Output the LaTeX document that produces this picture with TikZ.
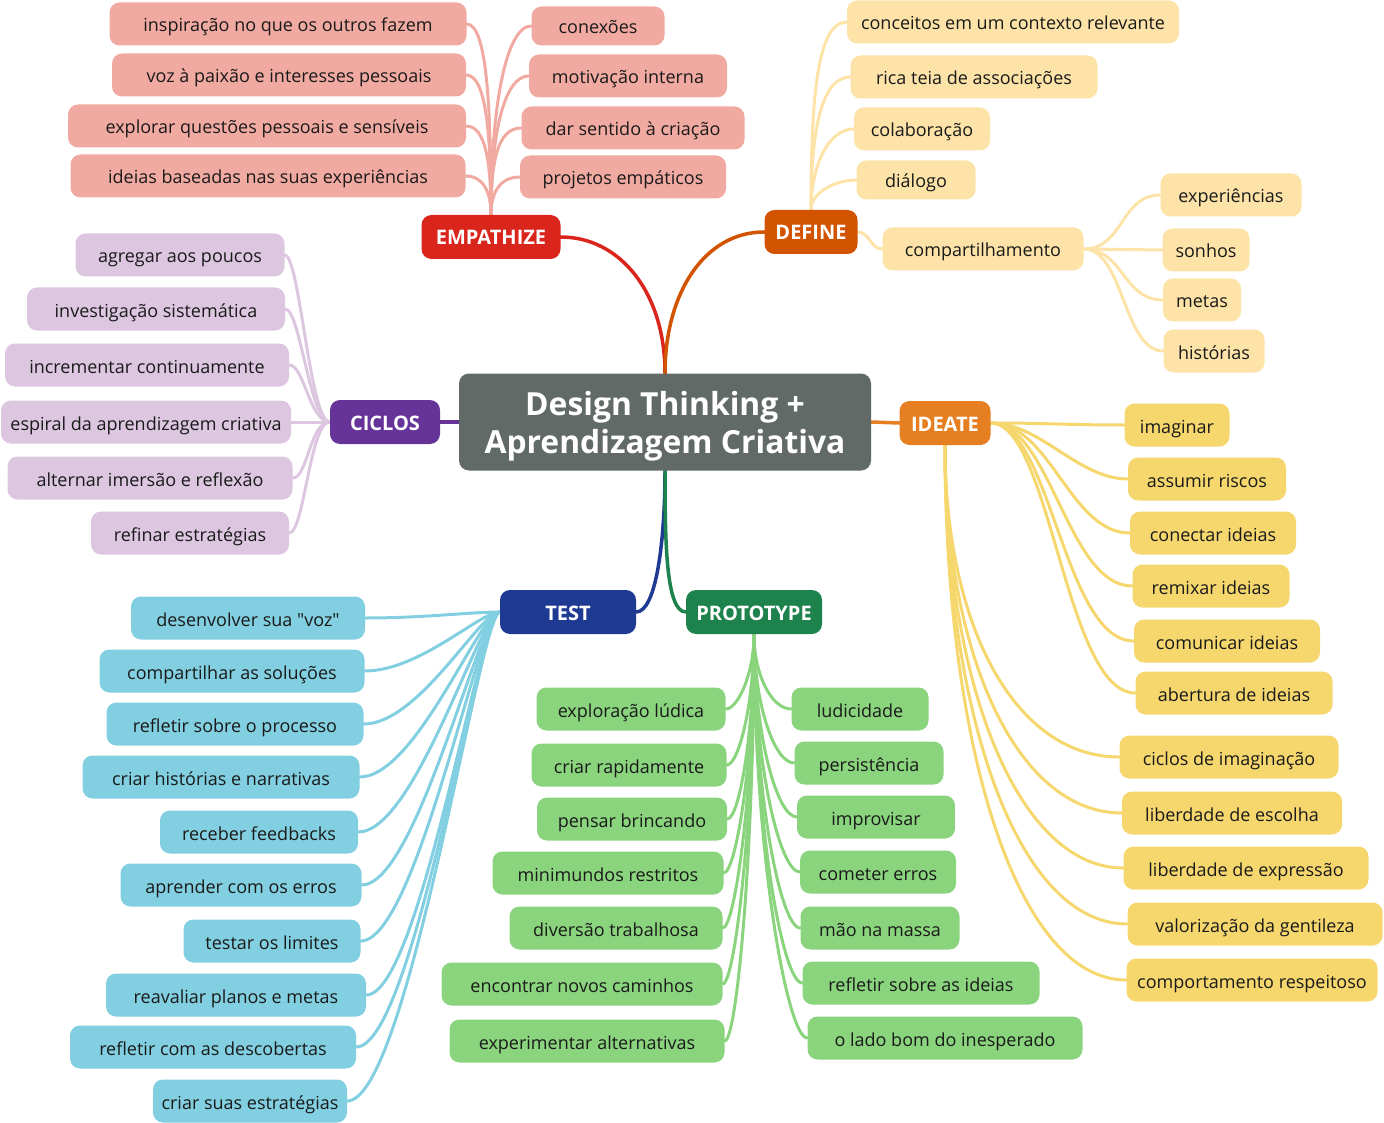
\documentclass[tikz,border=0pt]{standalone}
\usepackage{fontspec}
\setmainfont{Open Sans}
\definecolor{empC}{HTML}{DA251D}
\definecolor{empL}{HTML}{F1AAA1}
\definecolor{defC}{HTML}{D35400}
\definecolor{defL}{HTML}{FDE3A7}
\definecolor{ideC}{HTML}{E67E22}
\definecolor{ideL}{HTML}{F5D76E}
\definecolor{cicC}{HTML}{663399}
\definecolor{cicL}{HTML}{DCC6E0}
\definecolor{tesC}{HTML}{1F3A93}
\definecolor{tesL}{HTML}{81CFE0}
\definecolor{proC}{HTML}{1E824C}
\definecolor{proL}{HTML}{8AD47E}
\definecolor{cenC}{HTML}{626A67}
\definecolor{txt}{HTML}{1A1A1A}
\newcommand{\leaffont}{\fontsize{18}{21}\selectfont}
\newcommand{\catfont}{\fontsize{20}{24}\selectfont\bfseries}
\newcommand{\titlefont}{\fontsize{31.8}{38}\selectfont\bfseries}
\newcommand{\sq}{\XeTeXglyph\XeTeXcharglyph"22\relax}
\pgfdeclarelayer{bg}
\pgfsetlayers{bg,main}
\begin{document}
\begin{tikzpicture}[x=1pt,y=-1pt,
  box/.style={rounded corners=10pt, inner sep=0pt, align=center, minimum height=43pt},
  leafbox/.style={box, text=txt, font=\leaffont, text height=16pt, text depth=0pt},
  catbox/.style={box, text=white, font=\catfont, minimum height=44pt, text height=16pt, text depth=0pt},
  empleaf/.style={leafbox, fill=empL}, defleaf/.style={leafbox, fill=defL},
  ideleaf/.style={leafbox, fill=ideL}, cicleaf/.style={leafbox, fill=cicL},
  tesleaf/.style={leafbox, fill=tesL}, proleaf/.style={leafbox, fill=proL},
  leafline/.style={line width=3pt, line cap=round},
  catline/.style={line width=3.5pt, line cap=round},
]
\useasboundingbox (0,0) rectangle (1384,1123);

\node[box, fill=cenC, text=white, font=\titlefont, minimum width=412pt, minimum height=97pt, text depth=0pt] (C) at (665,422) {Design Thinking +\\Aprendizagem Criativa};

\node[catbox, fill=empC, minimum width=139pt] (E) at (491,237) {EMPATHIZE};
\node[catbox, fill=defC, minimum width=93pt] (D) at (811,232) {DEFINE};
\node[catbox, fill=ideC, minimum width=91pt] (I) at (945,423) {IDEATE};
\node[catbox, fill=cicC, minimum width=110pt] (Ci) at (385,422) {CICLOS};
\node[catbox, fill=tesC, minimum width=136pt] (T) at (568,612) {TEST};
\node[catbox, fill=proC, minimum width=136pt] (P) at (754,612) {PROTOTYPE};

% EMPATHIZE leaves
\node[empleaf, minimum width=357pt] (e1) at (288,24) {inspiração no que os outros fazem};
\node[empleaf, minimum width=354pt] (e2) at (289,75) {voz à paixão e interesses pessoais};
\node[empleaf, minimum width=398pt] (e3) at (267,126) {explorar questões pessoais e sensíveis};
\node[empleaf, minimum width=395pt] (e4) at (268,176) {ideias baseadas nas suas experiências};
\node[empleaf, minimum width=133pt, minimum height=39pt] (e5) at (598,26) {conexões};
\node[empleaf, minimum width=198pt] (e6) at (628,76) {motivação interna};
\node[empleaf, minimum width=223pt] (e7) at (633,128) {dar sentido à criação};
\node[empleaf, minimum width=206pt] (e8) at (623,177) {projetos empáticos};

% DEFINE leaves
\node[defleaf, minimum width=332pt] (d1) at (1013,22) {conceitos em um contexto relevante};
\node[defleaf, minimum width=247pt] (d2) at (974,77) {rica teia de associações};
\node[defleaf, minimum width=136pt] (d3) at (922,129) {colaboração};
\node[defleaf, minimum width=119pt, minimum height=39pt] (d4) at (916,180) {diálogo};
\node[defleaf, minimum width=201pt] (d5) at (983,249) {compartilhamento};
\node[defleaf, minimum width=141pt] (d6) at (1231,195) {experiências};
\node[defleaf, minimum width=87pt] (d7) at (1206,250) {sonhos};
\node[defleaf, minimum width=78pt] (d8) at (1202,300) {metas};
\node[defleaf, minimum width=101pt] (d9) at (1214,351) {histórias};

% IDEATE leaves
\node[ideleaf, minimum width=105pt] (i1) at (1177,425) {imaginar};
\node[ideleaf, minimum width=158pt] (i2) at (1207,479) {assumir riscos};
\node[ideleaf, minimum width=166pt] (i3) at (1213,533) {conectar ideias};
\node[ideleaf, minimum width=157pt] (i4) at (1211,586) {remixar ideias};
\node[ideleaf, minimum width=186pt] (i5) at (1227,641) {comunicar ideias};
\node[ideleaf, minimum width=197pt] (i6) at (1234,693) {abertura de ideias};
\node[ideleaf, minimum width=219pt] (i7) at (1229,757) {ciclos de imaginação};
\node[ideleaf, minimum width=220pt] (i8) at (1232,813) {liberdade de escolha};
\node[ideleaf, minimum width=245pt] (i9) at (1246,868) {liberdade de expressão};
\node[ideleaf, minimum width=255pt] (i10) at (1255,924) {valorização da gentileza};
\node[ideleaf, minimum width=251pt] (i11) at (1252,980) {comportamento respeitoso};

% CICLOS leaves
\node[cicleaf, minimum width=209pt] (c1) at (180,255) {agregar aos poucos};
\node[cicleaf, minimum width=258pt] (c2) at (156,309) {investigação sistemática};
\node[cicleaf, minimum width=284pt] (c3) at (147,365) {incrementar continuamente};
\node[cicleaf, minimum width=290pt] (c4) at (146,422) {espiral da aprendizagem criativa};
\node[cicleaf, minimum width=285pt] (c5) at (150,478) {alternar imersão e reflexão};
\node[cicleaf, minimum width=198pt] (c6) at (190,533) {refinar estratégias};

% TEST leaves
\node[tesleaf, minimum width=234pt] (t1) at (248,618) {desenvolver sua \sq voz\sq};
\node[tesleaf, minimum width=265pt] (t2) at (232,671) {compartilhar as soluções};
\node[tesleaf, minimum width=257pt] (t3) at (235,724) {refletir sobre o processo};
\node[tesleaf, minimum width=277pt] (t4) at (221,777) {criar histórias e narrativas};
\node[tesleaf, minimum width=198pt] (t5) at (259,832) {receber feedbacks};
\node[tesleaf, minimum width=241pt] (t6) at (241,885) {aprender com os erros};
\node[tesleaf, minimum width=177pt] (t7) at (272,941) {testar os limites};
\node[tesleaf, minimum width=260pt] (t8) at (236,995) {reavaliar planos e metas};
\node[tesleaf, minimum width=286pt] (t9) at (213,1047) {refletir com as descobertas};
\node[tesleaf, minimum width=194pt] (t10) at (250,1101) {criar suas estratégias};

% PROTOTYPE leaves
\node[proleaf, minimum width=189pt] (p1) at (631,709) {exploração lúdica};
\node[proleaf, minimum width=195pt] (p2) at (629,765) {criar rapidamente};
\node[proleaf, minimum width=190pt] (p3) at (632,819) {pensar brincando};
\node[proleaf, minimum width=231pt] (p4) at (608,873) {minimundos restritos};
\node[proleaf, minimum width=213pt] (p5) at (616,928) {diversão trabalhosa};
\node[proleaf, minimum width=281pt] (p6) at (582,984) {encontrar novos caminhos};
\node[proleaf, minimum width=275pt] (p7) at (587,1041) {experimentar alternativas};
\node[proleaf, minimum width=137pt] (q1) at (860,709) {ludicidade};
\node[proleaf, minimum width=149pt] (q2) at (869,763) {persistência};
\node[proleaf, minimum width=158pt] (q3) at (876,817) {improvisar};
\node[proleaf, minimum width=156pt] (q4) at (878,872) {cometer erros};
\node[proleaf, minimum width=159pt] (q5) at (880,928) {mão na massa};
\node[proleaf, minimum width=237pt] (q6) at (921,983) {refletir sobre as ideias};
\node[proleaf, minimum width=275pt] (q7) at (945,1038) {o lado bom do inesperado};

\begin{pgfonlayer}{bg}
% main branches
\draw[catline, empC] (C.north) .. controls +(0,-80) and +(60,0) .. (E.east);
\draw[catline, defC] (C.north) .. controls +(0,-80) and +(-60,0) .. (D.west);
\draw[catline, ideC] (C.east) -- (I.west);
\draw[catline, cicC] (C.west) -- (Ci.east);
\draw[catline, tesC] (C.south) .. controls +(0,70) and +(20,0) .. (T.east);
\draw[catline, proC] (C.south) .. controls +(0,70) and +(-20,0) .. (P.west);

% EMPATHIZE
\begin{scope}[leafline, empL]
\draw (E.north) .. controls +(0,-110) and +(20,0) .. (e1.east);
\draw (E.north) .. controls +(0,-80) and +(20,0) .. (e2.east);
\draw (E.north) .. controls +(0,-50) and +(20,0) .. (e3.east);
\draw (E.north) .. controls +(0,-22) and +(18,0) .. (e4.east);
\draw (E.north) .. controls +(0,-110) and +(-25,0) .. (e5.west);
\draw (E.north) .. controls +(0,-80) and +(-25,0) .. (e6.west);
\draw (E.north) .. controls +(0,-50) and +(-25,0) .. (e7.west);
\draw (E.north) .. controls +(0,-22) and +(-20,0) .. (e8.west);
\end{scope}

% DEFINE
\begin{scope}[leafline, defL]
\draw (D.north) .. controls +(0,-110) and +(-30,0) .. (d1.west);
\draw (D.north) .. controls +(0,-75) and +(-30,0) .. (d2.west);
\draw (D.north) .. controls +(0,-45) and +(-25,0) .. (d3.west);
\draw (D.north) .. controls +(0,-18) and +(-20,0) .. (d4.west);
\draw (D.east) .. controls +(12,0) and +(-12,0) .. (d5.west);
\draw (d5.east) .. controls +(40,0) and +(-40,0) .. (d6.west);
\draw (d5.east) .. controls +(40,0) and +(-40,0) .. (d7.west);
\draw (d5.east) .. controls +(40,0) and +(-40,0) .. (d8.west);
\draw (d5.east) .. controls +(40,0) and +(-40,0) .. (d9.west);
\end{scope}

% IDEATE
\begin{scope}[leafline, ideL]
\draw (I.east) .. controls +(60,0) and +(-60,0) .. (i1.west);
\draw (I.east) .. controls +(50,0) and +(-50,0) .. (i2.west);
\draw (I.east) .. controls +(60,0) and +(-60,0) .. (i3.west);
\draw (I.east) .. controls +(60,0) and +(-65,0) .. (i4.west);
\draw (I.east) .. controls +(60,0) and +(-70,0) .. (i5.west);
\draw (I.east) .. controls +(60,0) and +(-70,0) .. (i6.west);
\draw (I.south) .. controls +(0,180) and +(-105,0) .. (i7.west);
\draw (I.south) .. controls +(0,210) and +(-105,0) .. (i8.west);
\draw (I.south) .. controls +(0,240) and +(-105,0) .. (i9.west);
\draw (I.south) .. controls +(0,270) and +(-110,0) .. (i10.west);
\draw (I.south) .. controls +(0,300) and +(-110,0) .. (i11.west);
\end{scope}

% CICLOS
\begin{scope}[leafline, cicL]
\draw (Ci.west) .. controls +(-20,0) and +(15,0) .. (c1.east);
\draw (Ci.west) .. controls +(-20,0) and +(15,0) .. (c2.east);
\draw (Ci.west) .. controls +(-20,0) and +(15,0) .. (c3.east);
\draw (Ci.west) -- (c4.east);
\draw (Ci.west) .. controls +(-20,0) and +(15,0) .. (c5.east);
\draw (Ci.west) .. controls +(-20,0) and +(15,0) .. (c6.east);
\end{scope}

% TEST
\begin{scope}[leafline, tesL]
\draw (T.west) .. controls +(-30,0) and +(60,0) .. (t1.east);
\draw (T.west) .. controls +(-20,0) and +(55,0) .. (t2.east);
\draw (T.west) .. controls +(-20,0) and +(55,0) .. (t3.east);
\draw (T.west) .. controls +(-20,0) and +(56,0) .. (t4.east);
\draw (T.west) .. controls +(-20,0) and +(57,0) .. (t5.east);
\draw (T.west) .. controls +(-20,0) and +(55,0) .. (t6.east);
\draw (T.west) .. controls +(-20,0) and +(56,0) .. (t7.east);
\draw (T.west) .. controls +(-20,0) and +(54,0) .. (t8.east);
\draw (T.west) .. controls +(-20,0) and +(58,0) .. (t9.east);
\draw (T.west) .. controls +(-20,0) and +(61,0) .. (t10.east);
\end{scope}

% PROTOTYPE
\begin{scope}[leafline, proL]
\draw (P.south) .. controls +(0,40) and +(12,0) .. (p1.east);
\draw (P.south) .. controls +(0,70) and +(12,0) .. (p2.east);
\draw (P.south) .. controls +(0,100) and +(12,0) .. (p3.east);
\draw (P.south) .. controls +(0,130) and +(12,0) .. (p4.east);
\draw (P.south) .. controls +(0,160) and +(12,0) .. (p5.east);
\draw (P.south) .. controls +(0,190) and +(12,0) .. (p6.east);
\draw (P.south) .. controls +(0,220) and +(12,0) .. (p7.east);
\draw (P.south) .. controls +(0,40) and +(-20,0) .. (q1.west);
\draw (P.south) .. controls +(0,70) and +(-20,0) .. (q2.west);
\draw (P.south) .. controls +(0,100) and +(-20,0) .. (q3.west);
\draw (P.south) .. controls +(0,130) and +(-20,0) .. (q4.west);
\draw (P.south) .. controls +(0,160) and +(-20,0) .. (q5.west);
\draw (P.south) .. controls +(0,190) and +(-20,0) .. (q6.west);
\draw (P.south) .. controls +(0,220) and +(-20,0) .. (q7.west);
\end{scope}
\end{pgfonlayer}
\end{tikzpicture}
\end{document}
